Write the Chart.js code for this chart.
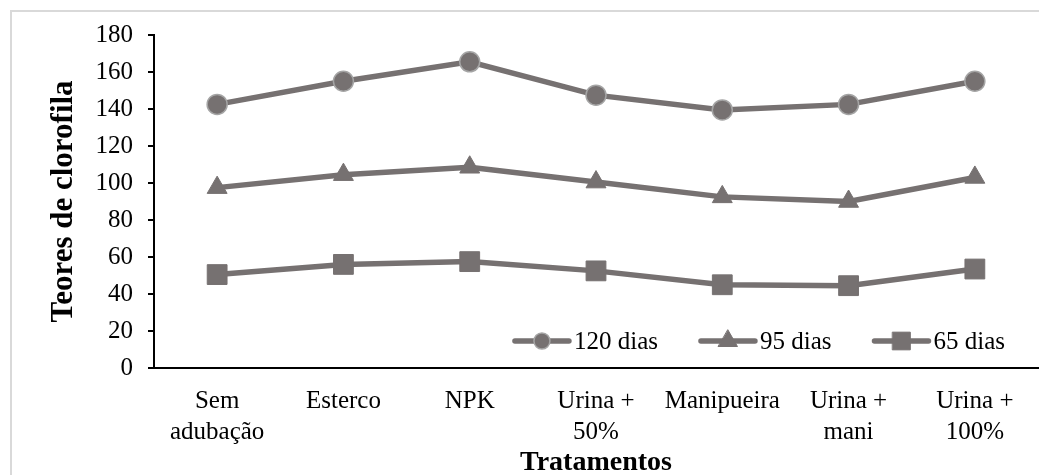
<!DOCTYPE html>
<html>
<head>
<meta charset="utf-8">
<script src="https://cdn.jsdelivr.net/npm/chart.js@4/dist/chart.umd.min.js"></script>
<style>
  html, body { margin: 0; padding: 0; background: #fff; }
  #wrap { width: 1039px; height: 475px; position: relative; }
</style>
</head>
<body>
<div id="wrap"><canvas id="c"></canvas></div>
<script>
const categories = [["Sem", "adubação"], "Esterco", "NPK", ["Urina +", "50%"], "Manipueira", ["Urina +", "mani"], ["Urina +", "100%"]];
const seriesNames = ["120 dias", "95 dias", "65 dias"];
const values120 = [142.5, 155, 165.5, 147.5, 139.5, 142.5, 155];
const values95 = [97.5, 104.5, 108.5, 100.5, 92.5, 90, 103];
const values65 = [50.5, 56, 57.5, 52.5, 45, 44.5, 53.5];
const yTicks = [0, 20, 40, 60, 80, 100, 120, 140, 160, 180];

const LINE = '#767171';
const FONT = '"Liberation Serif", "Times New Roman", serif';

const frame = {
  id: 'frame',
  beforeDraw(chart) {
    const ctx = chart.ctx;
    ctx.save();
    ctx.fillStyle = '#fff';
    ctx.fillRect(0, 0, chart.width, chart.height);
    ctx.strokeStyle = '#d9d9d9';
    ctx.lineWidth = 2;
    ctx.strokeRect(11, 11, chart.width + 20, chart.height + 20);
    ctx.restore();
  }
};

const legendStyles = [
  { pointStyle: 'circle', radius: 8, borderColor: '#a5a5a5', borderWidth: 1.5 },
  { pointStyle: 'triangle', radius: 11, borderColor: LINE, borderWidth: 1 },
  { pointStyle: 'rect', radius: 12.5, borderColor: LINE, borderWidth: 1 }
];

const insideLegend = {
  id: 'insideLegend',
  afterDraw(chart) {
    const ctx = chart.ctx;
    ctx.save();
    ctx.font = '25px ' + FONT;
    ctx.textBaseline = 'middle';
    const lineLen = 58, textGap = 3, itemGap = 41;
    const items = chart.data.datasets.map(ds => ({ label: ds.label, w: ctx.measureText(ds.label).width }));
    let total = 0;
    items.forEach((it, i) => { total += lineLen + textGap + it.w + (i < items.length - 1 ? itemGap : 0); });
    let x = 1005 - total;
    const y = 341;
    items.forEach((it, i) => {
      ctx.strokeStyle = LINE;
      ctx.lineWidth = 5.5;
      ctx.lineCap = 'round';
      ctx.beginPath();
      ctx.moveTo(x + 2, y);
      ctx.lineTo(x + lineLen - 2, y);
      ctx.stroke();
      const st = legendStyles[i];
      ctx.fillStyle = LINE;
      ctx.strokeStyle = st.borderColor;
      ctx.lineWidth = st.borderWidth;
      Chart.helpers.drawPoint(ctx, { pointStyle: st.pointStyle, radius: st.radius, rotation: 0, borderWidth: st.borderWidth }, x + lineLen / 2, y);
      ctx.fillStyle = '#000';
      ctx.fillText(it.label, x + lineLen + textGap, y + 1);
      x += lineLen + textGap + it.w + itemGap;
    });
    ctx.restore();
  }
};

const common = {
  borderColor: LINE,
  backgroundColor: LINE,
  borderWidth: 5.5,
  pointBackgroundColor: LINE,
  tension: 0,
  clip: false
};

new Chart(document.getElementById('c'), {
  type: 'line',
  data: {
    labels: categories,
    datasets: [
      Object.assign({}, common, { label: seriesNames[0], data: values120, pointStyle: 'circle', pointRadius: 10, pointBorderColor: '#a5a5a5', pointBorderWidth: 1.5 }),
      Object.assign({}, common, { label: seriesNames[1], data: values95, pointStyle: 'triangle', pointRadius: 11.5, pointBorderColor: LINE, pointBorderWidth: 1 }),
      Object.assign({}, common, { label: seriesNames[2], data: values65, pointStyle: 'rect', pointRadius: 14, pointBorderColor: LINE, pointBorderWidth: 1 })
    ]
  },
  options: {
    responsive: true,
    maintainAspectRatio: false,
    animation: false,
    layout: { autoPadding: false, padding: { top: 35, right: 1, bottom: 0, left: 0 } },
    plugins: { legend: { display: false }, tooltip: { enabled: false } },
    scales: {
      x: {
        offset: true,
        grid: { display: false },
        border: { display: true, color: '#000', width: 2 },
        ticks: { color: '#000', font: { family: FONT, size: 25, lineHeight: 1.25 }, padding: 10, maxRotation: 0, autoSkip: false },
        title: { display: true, text: 'Tratamentos', color: '#000', font: { family: FONT, size: 28, weight: 'bold', lineHeight: 0.9 }, padding: { top: 0, bottom: 0 } },
        afterFit(scale) { scale.height = 107; scale.paddingLeft = 0; scale.paddingRight = 0; }
      },
      y: {
        min: 0,
        max: 180,
        afterBuildTicks(scale) { scale.ticks = yTicks.map(v => ({ value: v })); },
        grid: { drawOnChartArea: false, drawTicks: true, tickLength: 6, color: '#000', lineWidth: 2 },
        border: { display: true, color: '#000', width: 2 },
        ticks: { color: '#000', font: { family: FONT, size: 25 }, padding: 15 },
        title: { display: true, text: 'Teores de clorofila', color: '#000', font: { family: FONT, size: 31, weight: 'bold', lineHeight: 1.2 }, padding: { top: 45, bottom: 0 } },
        afterFit(scale) { scale.width = 154; }
      }
    }
  },
  plugins: [frame, insideLegend]
});
</script>
</body>
</html>
